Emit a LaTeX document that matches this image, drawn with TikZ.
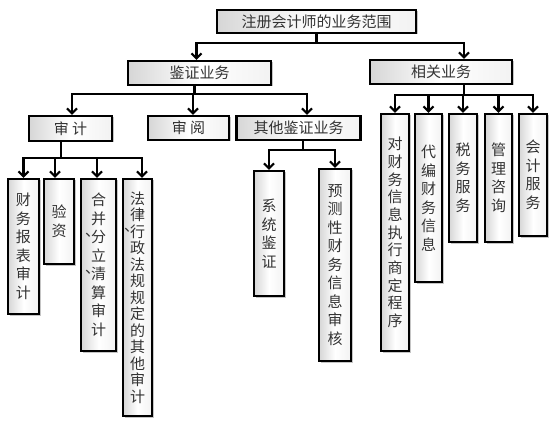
\documentclass[tikz,border=0pt]{standalone}
\usepackage{fontspec}
\newfontfamily\cjk{Noto Sans CJK SC}
\usetikzlibrary{arrows.meta,shadows}
\newcommand\dunhao{\llap{\raisebox{6pt}{、}\kern-0.6em}}
\tikzset{
  box/.style={draw=black, line width=2.2pt, left color=black!16, right color=black!5, middle color=white,
    drop shadow={shadow xshift=1.5pt, shadow yshift=-1.5pt, fill=black!45},
    text=black!80, font=\cjk\fontsize{15}{18.5}\selectfont, inner sep=0pt, align=center},
  link/.style={line width=2.2pt, ->},
}
\begin{document}
\begin{tikzpicture}[x=1pt, y=-1pt, >={Straight Barb[length=5pt,width=10pt]}]
    \useasboundingbox (0,0) rectangle (554,422);
    % top levels
    \node[box, minimum width=199pt, minimum height=23pt] (root) at (316.5,21.5) {注册会计师的业务范围};
    \node[box, minimum width=143pt, minimum height=24pt] (jz) at (199.5,73) {鉴证业务};
    \node[box, minimum width=142pt, minimum height=24pt] (xg) at (441,72) {相关业务};
    \node[box, minimum width=83pt, minimum height=25pt] (sj) at (70.5,128.5) {审\ 计};
    \node[box, minimum width=81pt, minimum height=24pt] (sy) at (188.5,128) {审\ 阅};
    \node[box, minimum width=124pt, minimum height=24pt] (qt) at (298.5,128) {其他鉴证业务};
    % columns under 审计
    \node[box, minimum width=31pt, minimum height=135pt] (cwbb) at (23.5,246.5) {财\\务\\报\\表\\审\\计};
    \node[box, minimum width=30pt, minimum height=85pt] (yz) at (59,221.5) {验\\资};
    \node[box, minimum width=35pt, minimum height=172pt] (hb) at (98.5,265)
      {合\\并\\\dunhao 分\\立\\\dunhao 清\\算\\审\\计};
    \node[box, minimum width=29pt, minimum height=237pt, font=\cjk\fontsize{15}{16.5}\selectfont] (fl) at (137.5,297.5)
      {法\\律\\\dunhao 行\\政\\法\\规\\规\\定\\的\\其\\他\\审\\计};
    % columns under 其他鉴证业务
    \node[box, minimum width=30pt, minimum height=125pt] (xt) at (269,233.5) {系\\统\\鉴\\证};
    \node[box, minimum width=32pt, minimum height=192pt] (yc) at (335,265) {预\\测\\性\\财\\务\\信\\息\\审\\核};
    % columns under 相关业务
    \node[box, minimum width=28pt, minimum height=237pt, font=\cjk\fontsize{15}{17.7}\selectfont] (d1) at (395,232.5) {对\\财\\务\\信\\息\\执\\行\\商\\定\\程\\序};
    \node[box, minimum width=27pt, minimum height=168pt] (d2) at (428.5,198) {代\\编\\财\\务\\信\\息};
    \node[box, minimum width=28pt, minimum height=128pt] (d3) at (463,178) {税\\务\\服\\务};
    \node[box, minimum width=27pt, minimum height=128pt] (d4) at (498.5,178) {管\\理\\咨\\询};
    \node[box, minimum width=28pt, minimum height=122pt] (d5) at (533,175) {会\\计\\服\\务};
    % connectors
    \draw[link] (root.south) -- ++(0,9) -| ([xshift=-3pt]jz.north);
    \draw[link] (root.south) -- ++(0,9) -| ([xshift=23pt]xg.north);
    \foreach \c/\s in {sj/1.5pt, sy/4.5pt, qt/8.5pt}
      \draw[link] ([xshift=-5pt]jz.south) -- ++(0,8) -| ([xshift=\s]\c.north);
    \foreach \c/\s in {cwbb/0pt, yz/-4pt, hb/-1.5pt, fl/4.5pt}
      \draw[link] ([xshift=-9.5pt]sj.south) -- ++(0,16) -| ([xshift=\s]\c.north);
    \foreach \c in {xt, yc}
      \draw[link] ([xshift=4.5pt]qt.south) -- ++(0,9) -| (\c.north);
    \foreach \c in {d1, d2, d3, d4, d5}
      \draw[link] ([xshift=23pt]xg.south) -- ++(0,10) -| (\c.north);
\end{tikzpicture}
\end{document}
